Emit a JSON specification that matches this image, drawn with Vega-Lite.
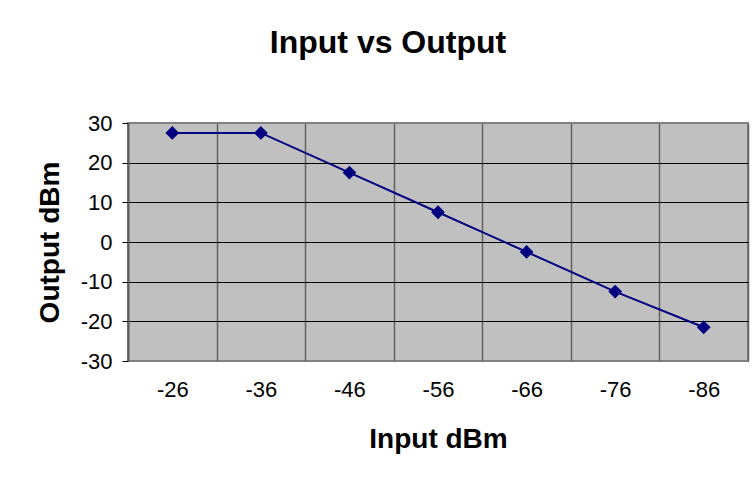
{
  "$schema": "https://vega.github.io/schema/vega-lite/v6.json",
  "autosize": {"type": "none"},
  "width": 620,
  "height": 238,
  "padding": {"left": 128, "top": 123, "right": 8, "bottom": 122},
  "background": "white",
  "title": {
    "text": "Input vs Output",
    "font": "Liberation Sans",
    "fontSize": 32,
    "fontWeight": "bold",
    "color": "black",
    "anchor": "middle",
    "dx": -50,
    "offset": 52
  },
  "data": {
    "values": [
      {"input": -26, "output": 27.5},
      {"input": -36, "output": 27.5},
      {"input": -46, "output": 17.5},
      {"input": -56, "output": 7.5},
      {"input": -66, "output": -2.5},
      {"input": -76, "output": -12.5},
      {"input": -86, "output": -21.5}
    ]
  },
  "encoding": {
    "x": {
      "field": "input",
      "type": "ordinal",
      "sort": "descending",
      "scale": {"paddingInner": 0, "paddingOuter": 0},
      "axis": {
        "title": "Input dBm",
        "titleFont": "Liberation Sans",
        "titleFontSize": 28,
        "titleFontWeight": "bold",
        "titleColor": "black",
        "titlePadding": 25,
        "labelFont": "Liberation Sans",
        "labelFontSize": 22,
        "labelColor": "black",
        "labelAngle": 0,
        "labelPadding": 18,
        "ticks": false,
        "tickBand": "extent",
        "domain": false,
        "grid": true,
        "gridColor": "#606060",
        "gridWidth": 1.5,
        "gridOpacity": 1
      }
    },
    "y": {
      "field": "output",
      "type": "quantitative",
      "scale": {"domain": [-30, 30], "nice": false, "zero": false},
      "axis": {
        "title": "Output dBm",
        "titleFont": "Liberation Sans",
        "titleFontSize": 28,
        "titleFontWeight": "bold",
        "titleColor": "black",
        "titlePadding": 16,
        "values": [-30, -20, -10, 0, 10, 20, 30],
        "labelExpr": "datum.value + ''",
        "labelFont": "Liberation Sans",
        "labelFontSize": 22,
        "labelColor": "black",
        "labelPadding": 10,
        "tickSize": 6,
        "tickColor": "black",
        "tickWidth": 1,
        "domain": true,
        "domainColor": "#606060",
        "domainWidth": 2,
        "grid": true,
        "gridColor": {"condition": {"test": "datum.value == 30 || datum.value == -30", "value": "#808080"}, "value": "black"},
        "gridWidth": 1.2,
        "gridOpacity": 1
      }
    }
  },
  "layer": [
    {
      "mark": {"type": "line", "color": "#000080", "strokeWidth": 2}
    },
    {
      "mark": {"type": "point", "shape": "diamond", "filled": true, "color": "#000080", "size": 190, "opacity": 1}
    }
  ],
  "config": {
    "view": {"fill": "#C0C0C0", "stroke": "#808080", "strokeWidth": 2}
  }
}
